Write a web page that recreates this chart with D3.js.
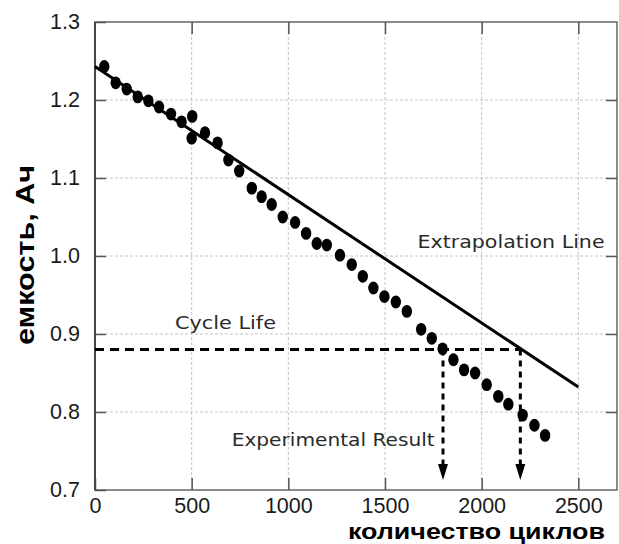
<!DOCTYPE html>
<html>
<head>
<meta charset="utf-8">
<script src="https://cdn.jsdelivr.net/npm/d3@7"></script>
<style>
  html, body { margin: 0; padding: 0; background: #fff; }
  svg { display: block; }
</style>
</head>
<body>
<svg id="chart" width="619" height="544"></svg>
<script>
// ---- data ----
const cycles = [48, 107, 164, 221, 276, 331, 393, 448, 503, 500, 569, 634, 690, 746, 811, 862, 914, 971, 1035, 1092, 1147, 1199, 1267, 1328, 1385, 1440, 1497, 1556, 1613, 1687, 1742, 1798, 1854, 1909, 1966, 2026, 2086, 2138, 2212, 2273, 2328];
const capacity = [1.243, 1.222, 1.214, 1.204, 1.199, 1.191, 1.182, 1.172, 1.179, 1.151, 1.158, 1.145, 1.123, 1.109, 1.087, 1.076, 1.066, 1.050, 1.043, 1.029, 1.016, 1.014, 1.001, 0.989, 0.974, 0.959, 0.948, 0.941, 0.929, 0.906, 0.8945, 0.881, 0.867, 0.854, 0.850, 0.835, 0.820, 0.810, 0.796, 0.783, 0.770];
const extrapCycles = [0, 2500];
const extrapCapacity = [1.243, 0.832];
const cycleLifeCapacity = 0.88;
const lifeResults = [1800, 2200];
const xTicks = [0, 500, 1000, 1500, 2000, 2500];
const yTicks = [0.7, 0.8, 0.9, 1.0, 1.1, 1.2, 1.3];
const xTitle = "количество циклов";
const yTitle = "емкость, Ач";
const labels = [
  {text: "Extrapolation Line", cx: 2152, cy: 1.010, len: 187},
  {text: "Cycle Life", cx: 675, cy: 0.906, len: 101},
  {text: "Experimental Result", cx: 1232, cy: 0.756, len: 203}
];

// ---- layout ----
const svg = d3.select("#chart");
const L = 95, R = 617, T = 22, B = 490;
const x = d3.scaleLinear().domain([0, 2700]).range([L, R]);
const y = d3.scaleLinear().domain([0.7, 1.3]).range([B, T]);

// gridlines
const grid = svg.append("g");
grid.selectAll(".gx").data(xTicks.slice(1)).join("line")
  .attr("x1", d => x(d)).attr("x2", d => x(d)).attr("y1", T).attr("y2", B)
  .attr("stroke", "#c4c4c4").attr("stroke-width", 1).attr("stroke-dasharray", "3,2");
grid.selectAll(".gy").data(yTicks.slice(1, -1)).join("line")
  .attr("x1", L).attr("x2", R).attr("y1", d => y(d)).attr("y2", d => y(d))
  .attr("stroke", "#c4c4c4").attr("stroke-width", 1).attr("stroke-dasharray", "3,2");

// frame
svg.append("rect").attr("x", L).attr("y", T).attr("width", R - L).attr("height", B - T)
  .attr("fill", "none").attr("stroke", "#666").attr("stroke-width", 1.5);

// axes (inward ticks)
const fmtY = d3.format(".1f");
const axL = svg.append("g").attr("transform", `translate(${L},0)`)
  .call(d3.axisLeft(y).tickValues(yTicks).tickFormat(fmtY).tickSizeInner(-11).tickPadding(15).tickSizeOuter(0));
const axB = svg.append("g").attr("transform", `translate(0,${B})`)
  .call(d3.axisBottom(x).tickValues(xTicks).tickFormat(d3.format("d")).tickSizeInner(-12).tickPadding(8).tickSizeOuter(0));
const axR = svg.append("g").attr("transform", `translate(${R},0)`)
  .call(d3.axisRight(y).tickValues(yTicks.slice(1, -1)).tickFormat("").tickSizeInner(-11).tickSizeOuter(0));
const axT = svg.append("g").attr("transform", `translate(0,${T})`)
  .call(d3.axisTop(x).tickValues(xTicks.slice(1)).tickFormat("").tickSizeInner(-12).tickSizeOuter(0));
[axL, axB, axR, axT].forEach(a => {
  a.select(".domain").remove();
  a.selectAll(".tick line").attr("stroke", "#555").attr("stroke-width", 1.5);
  a.selectAll(".tick text").attr("fill", "#1a1a1a")
    .style("font-family", "'Liberation Sans', Arial, sans-serif").style("font-size", "21.5px");
});
svg.append("line").attr("x1", L).attr("x2", L).attr("y1", T).attr("y2", B)
  .attr("stroke", "#444").attr("stroke-width", 2);

// extrapolation line
svg.append("line")
  .attr("x1", x(extrapCycles[0])).attr("y1", y(extrapCapacity[0]))
  .attr("x2", x(extrapCycles[1])).attr("y2", y(extrapCapacity[1]))
  .attr("stroke", "#000").attr("stroke-width", 3);

// cycle life dashed horizontal
svg.append("line")
  .attr("x1", x(0)).attr("x2", x(d3.max(lifeResults)))
  .attr("y1", y(cycleLifeCapacity)).attr("y2", y(cycleLifeCapacity))
  .attr("stroke", "#000").attr("stroke-width", 3).attr("stroke-dasharray", "9,6");

// vertical arrows
const arrowTip = B - 10;
svg.selectAll(".vline").data(lifeResults).join("line")
  .attr("x1", d => x(d)).attr("x2", d => x(d))
  .attr("y1", y(cycleLifeCapacity)).attr("y2", arrowTip - 12)
  .attr("stroke", "#000").attr("stroke-width", 3).attr("stroke-dasharray", "6,5");
svg.selectAll(".arrow").data(lifeResults).join("path")
  .attr("d", d => `M${x(d) - 5},${arrowTip - 16} L${x(d) + 5},${arrowTip - 16} L${x(d)},${arrowTip} Z`)
  .attr("fill", "#000");

// data points
svg.selectAll(".pt").data(cycles.map((c, i) => [c, capacity[i]])).join("ellipse")
  .attr("cx", d => x(d[0])).attr("cy", d => y(d[1]))
  .attr("rx", 5.2).attr("ry", 6.4).attr("fill", "#000");

// annotations
svg.selectAll(".ann").data(labels).join("text")
  .attr("x", d => x(d.cx)).attr("y", d => y(d.cy))
  .attr("text-anchor", "middle")
  .attr("textLength", d => d.len).attr("lengthAdjust", "spacingAndGlyphs")
  .style("font-family", "'DejaVu Sans', sans-serif").style("font-size", "18.5px")
  .attr("fill", "#2a2a2a").text(d => d.text);

// axis titles
svg.append("text").attr("x", 605).attr("y", 539).attr("text-anchor", "end")
  .attr("textLength", 257).attr("lengthAdjust", "spacingAndGlyphs")
  .style("font-family", "'Liberation Sans', Arial, sans-serif").style("font-size", "22px").style("font-weight", "bold")
  .attr("fill", "#000").text(xTitle);
svg.append("text").attr("transform", "translate(34,255) rotate(-90)").attr("text-anchor", "middle")
  .attr("textLength", 180).attr("lengthAdjust", "spacingAndGlyphs")
  .style("font-family", "'Liberation Sans', Arial, sans-serif").style("font-size", "25px").style("font-weight", "bold")
  .attr("fill", "#000").text(yTitle);
</script>
</body>
</html>
